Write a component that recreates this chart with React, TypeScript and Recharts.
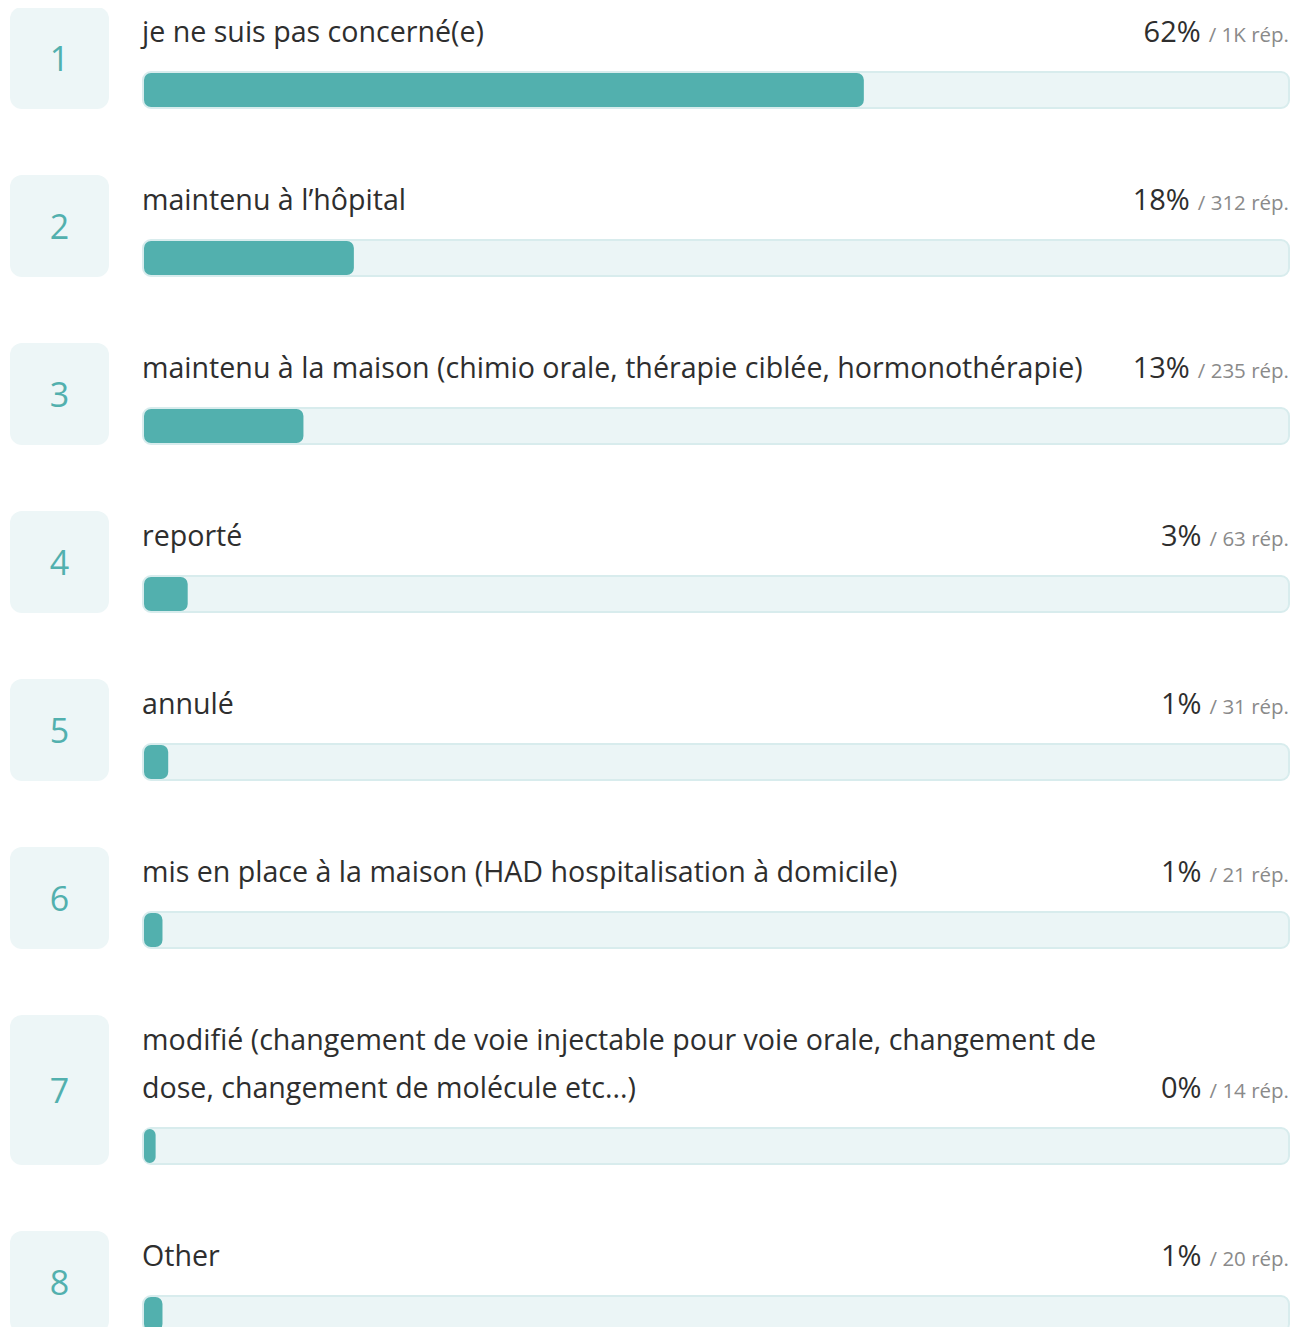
import React from 'react';
import { BarChart, Bar, XAxis, YAxis, Rectangle } from 'recharts';

// survey answers, in display order
const ranks = [1, 2, 3, 4, 5, 6, 7, 8];
const labels: string[][] = [
  ['je ne suis pas concerné(e)'],
  ['maintenu à l’hôpital'],
  ['maintenu à la maison (chimio orale, thérapie ciblée, hormonothérapie)'],
  ['reporté'],
  ['annulé'],
  ['mis en place à la maison (HAD hospitalisation à domicile)'],
  ['modifié (changement de voie injectable pour voie orale, changement de', 'dose, changement de molécule etc...)'],
  ['Other'],
];
const pctLabels = ['62%', '18%', '13%', '3%', '1%', '1%', '0%', '1%'];
const countLabels = ['1K', '312', '235', '63', '31', '21', '14', '20'];
// bar length, in % of the track
const shares = [62.9, 18.4, 14.0, 3.9, 2.2, 1.7, 1.1, 1.7];

const TEAL = '#52b0ae';
const TRACK = '#ebf5f6';
const TRACK_BORDER = '#d8eced';
const BOX = '#edf6f7';
const TEXT = '#2e2e2e';
const FONT = '"Open Sans", Lato, sans-serif';

const TRACK_W = 1148;
const TRACK_H = 38;
const LINE = 48;

const FillShape = (props: any) => {
  const { x, y, width, height } = props;
  return (
    <Rectangle
      x={x + 1}
      y={y + 1}
      width={Math.max(width - 1, 0)}
      height={height - 2}
      radius={7}
      fill={TEAL}
    />
  );
};

function Row({ i }: { i: number }) {
  const lines = labels[i];
  const data = [{ name: labels[i].join(' '), value: shares[i] }];
  return (
    <div style={{ display: 'flex', marginBottom: 66 }}>
      <div
        style={{
          width: 99,
          flexShrink: 0,
          background: BOX,
          borderRadius: 12,
          display: 'flex',
          alignItems: 'center',
          justifyContent: 'center',
          color: TEAL,
          fontSize: 34,
        }}
      >
        {ranks[i]}
      </div>
      <div style={{ marginLeft: 33, width: TRACK_W }}>
        <div
          style={{
            display: 'flex',
            alignItems: 'last baseline',
            justifyContent: 'space-between',
            height: lines.length * LINE,
            marginBottom: 16,
          }}
        >
          <div style={{ fontSize: 28.6, color: TEXT, whiteSpace: 'nowrap' }}>
            {lines.map((l, k) => (
              <div key={k} style={{ height: LINE, lineHeight: `${LINE}px` }}>{l}</div>
            ))}
          </div>
          <div style={{ whiteSpace: 'nowrap', height: LINE, lineHeight: `${LINE}px`, marginRight: 1 }}>
            <span style={{ fontSize: 29, color: TEXT }}>{pctLabels[i]}</span>
            <span style={{ fontSize: 20.5, color: '#8a8a8a', marginLeft: 8 }}>/ {countLabels[i]} rép.</span>
          </div>
        </div>
        <BarChart
          width={TRACK_W}
          height={TRACK_H}
          data={data}
          layout="vertical"
          margin={{ top: 1, right: 1, bottom: 1, left: 1 }}
          barCategoryGap={0}
        >
          <XAxis type="number" domain={[0, 100]} hide />
          <YAxis type="category" dataKey="name" hide />
          <Bar
            dataKey="value"
            isAnimationActive={false}
            background={{ fill: TRACK, stroke: TRACK_BORDER, strokeWidth: 2, radius: 8 }}
            shape={FillShape}
          />
        </BarChart>
      </div>
    </div>
  );
}

export default function App() {
  return (
    <div style={{ fontFamily: FONT, marginTop: -1, marginLeft: 2, width: 1280 }}>
      {ranks.map((_, i) => (
        <Row key={i} i={i} />
      ))}
    </div>
  );
}
